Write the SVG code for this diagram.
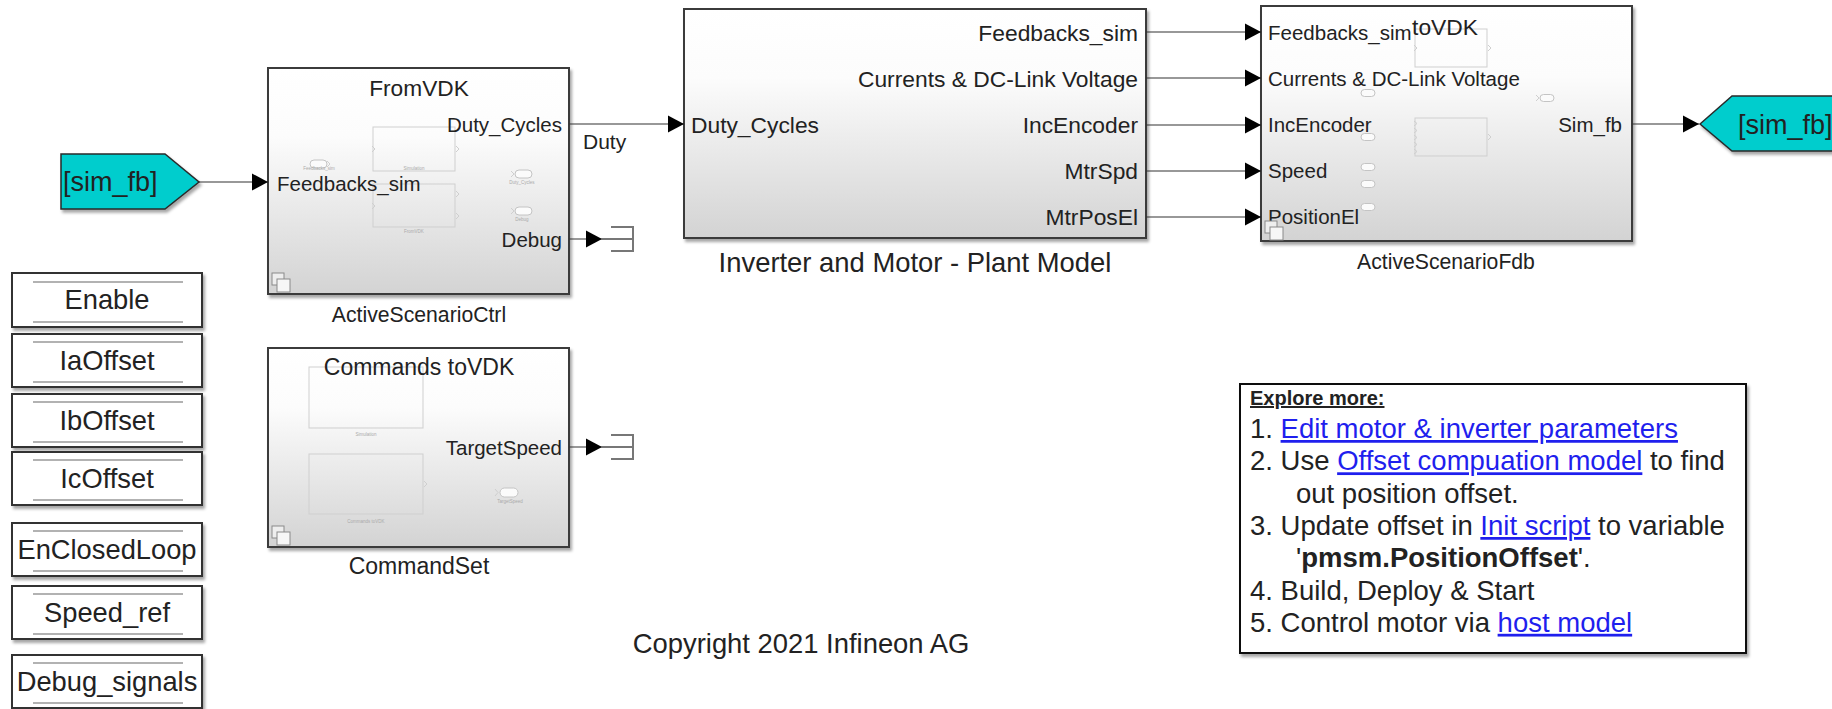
<svg xmlns="http://www.w3.org/2000/svg" width="1832" height="709" viewBox="0 0 1832 709">
<defs>
  <linearGradient id="blkgrad" x1="0" y1="0" x2="0" y2="1">
    <stop offset="0" stop-color="#ffffff"/>
    <stop offset="0.3" stop-color="#fcfcfc"/>
    <stop offset="1" stop-color="#d3d3d3"/>
  </linearGradient>
  <filter id="sh" x="-5%" y="-5%" width="115%" height="120%">
    <feDropShadow dx="2" dy="3" stdDeviation="1.5" flood-color="#000" flood-opacity="0.35"/>
  </filter>
  <marker id="arr" viewBox="0 -9 16 18" refX="16" refY="0" markerWidth="16" markerHeight="18" markerUnits="userSpaceOnUse" orient="auto">
    <path d="M0,-8.5 L16,0 L0,8.5 z" fill="#000"/>
  </marker>
  <g id="ssicon">
    <rect x="0" y="0" width="12" height="12" fill="#eeeeee" stroke="#8a8a8a" stroke-width="1"/>
    <rect x="5" y="6" width="13" height="13" fill="#f6f6f6" stroke="#8a8a8a" stroke-width="1"/>
  </g>
  <g id="term">
    <path d="M0,0 H31 M9,-12 H31 V12 H9" fill="none" stroke="#777" stroke-width="2"/>
  </g>
  <style>
    .blk { fill: url(#blkgrad); stroke: #3a3a3a; stroke-width: 2; filter: url(#sh); }
    .par { fill: #ffffff; stroke: #333; stroke-width: 2; filter: url(#sh); }
    .parln { stroke: #999; stroke-width: 1.5; }
    .t { font-family: "Liberation Sans", Arial, Helvetica, sans-serif; fill: #222; }
    .wire { stroke: #333; stroke-width: 1.2; fill: none; marker-end: url(#arr); }
    .faint { fill: none; stroke: #cfcfcf; stroke-width: 1; }
    .oval { fill: #fbfbfb; stroke: #c4c4c4; stroke-width: 1; }
    .tiny { font-family: "Liberation Sans", Arial, sans-serif; font-size: 4.5px; fill: #aaa; text-anchor: middle; }
    .tag { fill: #00cdcd; stroke: #2a2a2a; stroke-width: 1.5; filter: url(#sh); }
    .lnk { fill: #1f1fee; text-decoration: underline; }
  </style>
</defs>

<rect x="0" y="0" width="1832" height="709" fill="#ffffff"/>

<!-- Left Goto/From tag -->
<g id="from_sim_fb">
  <polygon class="tag" points="61,154 165,154 199,182 165,209 61,209"/>
  <text class="t" x="63" y="191" font-size="27">[sim_fb]</text>
</g>

<!-- ActiveScenarioCtrl -->
<g id="ActiveScenarioCtrl">
  <rect class="blk" x="268" y="68" width="301" height="226"/>
  <rect class="faint" x="373" y="127" width="82" height="44"/>
  <rect class="faint" x="373" y="184" width="82" height="43"/>
  <path class="faint" d="M372,146 l3,3 l-3,3 M456,146 l3,3 l-3,3 M372,203 l3,3 l-3,3 M456,191 l3,3 l-3,3 M456,213 l3,3 l-3,3"/>
  <text class="tiny" x="414" y="169.5">Simulation</text>
  <text class="tiny" x="414" y="233">FromVDK</text>
  <rect class="oval" x="310" y="160" width="17" height="8" rx="4"/>
  <path class="faint" d="M327,161 l3,3 l-3,3"/>
  <text class="tiny" x="319" y="170">Feedbacks_sim</text>
  <rect class="oval" x="515" y="170" width="17" height="8" rx="4"/>
  <path class="faint" d="M511,171 l3,3 l-3,3"/>
  <text class="tiny" x="522" y="184">Duty_Cycles</text>
  <rect class="oval" x="515" y="207" width="17" height="8" rx="4"/>
  <path class="faint" d="M511,208 l3,3 l-3,3"/>
  <text class="tiny" x="522" y="221">Debug</text>
  <text class="t" x="419" y="96" font-size="22.7" text-anchor="middle">FromVDK</text>
  <text class="t" x="277" y="190.5" font-size="20.5">Feedbacks_sim</text>
  <text class="t" x="562" y="131.5" font-size="20.5" text-anchor="end">Duty_Cycles</text>
  <text class="t" x="562" y="246.5" font-size="20.5" text-anchor="end">Debug</text>
  <use href="#ssicon" x="272" y="273"/>
  <text class="t" x="419" y="322" font-size="21.2" text-anchor="middle">ActiveScenarioCtrl</text>
</g>

<!-- CommandSet -->
<g id="CommandSet">
  <rect class="blk" x="268" y="348" width="301" height="199"/>
  <rect class="faint" x="309" y="367" width="114" height="61" stroke="#e2e2e2"/>
  <text class="tiny" x="366" y="436" fill="#c8c8c8">Simulation</text>
  <rect class="faint" x="309" y="454" width="114" height="60"/>
  <path class="faint" d="M424,481 l3,3 l-3,3"/>
  <text class="tiny" x="366" y="523">Commands toVDK</text>
  <rect class="oval" x="500" y="488" width="18" height="9" rx="4.5"/>
  <path class="faint" d="M495,489 l3,3.5 l-3,3.5"/>
  <text class="tiny" x="510" y="503">TargetSpeed</text>
  <text class="t" x="419" y="375" font-size="23" text-anchor="middle">Commands toVDK</text>
  <text class="t" x="562" y="454.5" font-size="20.5" text-anchor="end">TargetSpeed</text>
  <use href="#ssicon" x="272" y="526"/>
  <text class="t" x="419" y="574" font-size="23" text-anchor="middle">CommandSet</text>
</g>

<!-- Inverter and Motor - Plant Model -->
<g id="PlantModel">
  <rect class="blk" x="684" y="9" width="462" height="229"/>
  <text class="t" x="691" y="133" font-size="22.8">Duty_Cycles</text>
  <text class="t" x="1138" y="40.5" font-size="22.8" text-anchor="end">Feedbacks_sim</text>
  <text class="t" x="1138" y="86.5" font-size="22.8" text-anchor="end">Currents &amp; DC-Link Voltage</text>
  <text class="t" x="1138" y="133" font-size="22.8" text-anchor="end">IncEncoder</text>
  <text class="t" x="1138" y="179" font-size="22.8" text-anchor="end">MtrSpd</text>
  <text class="t" x="1138" y="225" font-size="22.8" text-anchor="end">MtrPosEl</text>
  <text class="t" x="915" y="272" font-size="27.4" text-anchor="middle">Inverter and Motor - Plant Model</text>
</g>

<!-- ActiveScenarioFdb -->
<g id="ActiveScenarioFdb">
  <rect class="blk" x="1261" y="6" width="371" height="235"/>
  <rect class="faint" x="1415" y="29" width="72" height="38"/>
  <path class="faint" d="M1414,45 l3,3 l-3,3 M1488,45 l3,3 l-3,3"/>
  <rect class="faint" x="1415" y="118" width="72" height="38" stroke="#c6c6c6"/>
  <path class="faint" d="M1414,121 l3,2.5 l-3,2.5 M1414,128 l3,2.5 l-3,2.5 M1414,135 l3,2.5 l-3,2.5 M1414,142 l3,2.5 l-3,2.5 M1414,149 l3,2.5 l-3,2.5 M1488,134 l3,3 l-3,3"/>
  <rect class="oval" x="1361" y="89.5" width="14" height="7" rx="3.5"/>
  <rect class="oval" x="1361" y="133.5" width="14" height="7" rx="3.5"/>
  <rect class="oval" x="1361" y="163.5" width="14" height="7" rx="3.5"/>
  <rect class="oval" x="1361" y="180.5" width="14" height="7" rx="3.5"/>
  <rect class="oval" x="1361" y="203.5" width="14" height="7" rx="3.5"/>
  <rect class="oval" x="1540" y="94.5" width="14" height="7" rx="3.5"/>
  <path class="faint" d="M1536,95 l3,3 l-3,3"/>
  <text class="t" x="1445" y="35" font-size="22.8" text-anchor="middle">toVDK</text>
  <text class="t" x="1268" y="39.5" font-size="20.5">Feedbacks_sim</text>
  <text class="t" x="1268" y="85.5" font-size="20.5">Currents &amp; DC-Link Voltage</text>
  <text class="t" x="1268" y="132" font-size="20.5">IncEncoder</text>
  <text class="t" x="1268" y="178" font-size="20.5">Speed</text>
  <text class="t" x="1268" y="224" font-size="20.5">PositionEl</text>
  <text class="t" x="1622" y="131.5" font-size="20.5" text-anchor="end">Sim_fb</text>
  <use href="#ssicon" x="1265" y="221"/>
  <text class="t" x="1446" y="269" font-size="21.2" text-anchor="middle">ActiveScenarioFdb</text>
</g>

<!-- Right Goto tag -->
<g id="goto_sim_fb">
  <polygon class="tag" points="1700,124 1732,96 1845,96 1845,151 1732,151"/>
  <text class="t" x="1738" y="133.5" font-size="27">[sim_fb]</text>
</g>

<!-- Terminators -->
<g id="Terminator_Debug">
  <use href="#term" x="602" y="239"/>
</g>
<g id="Terminator_TargetSpeed">
  <use href="#term" x="602" y="447"/>
</g>

<!-- Parameter blocks -->
<g id="Enable">
  <rect class="par" x="12" y="273" width="190" height="54"/>
  <line class="parln" x1="33" y1="282" x2="183" y2="282"/><line class="parln" x1="33" y1="322" x2="183" y2="322"/>
  <text class="t" x="107" y="309" font-size="27.3" text-anchor="middle">Enable</text>
</g>
<g id="IaOffset">
  <rect class="par" x="12" y="334" width="190" height="53"/>
  <line class="parln" x1="33" y1="342" x2="183" y2="342"/><line class="parln" x1="33" y1="382" x2="183" y2="382"/>
  <text class="t" x="107" y="370" font-size="27.3" text-anchor="middle">IaOffset</text>
</g>
<g id="IbOffset">
  <rect class="par" x="12" y="394" width="190" height="53"/>
  <line class="parln" x1="33" y1="402" x2="183" y2="402"/><line class="parln" x1="33" y1="442" x2="183" y2="442"/>
  <text class="t" x="107" y="430" font-size="27.3" text-anchor="middle">IbOffset</text>
</g>
<g id="IcOffset">
  <rect class="par" x="12" y="452" width="190" height="53"/>
  <line class="parln" x1="33" y1="460" x2="183" y2="460"/><line class="parln" x1="33" y1="500" x2="183" y2="500"/>
  <text class="t" x="107" y="488" font-size="27.3" text-anchor="middle">IcOffset</text>
</g>
<g id="EnClosedLoop">
  <rect class="par" x="12" y="523" width="190" height="53"/>
  <line class="parln" x1="33" y1="531" x2="183" y2="531"/><line class="parln" x1="33" y1="571" x2="183" y2="571"/>
  <text class="t" x="107" y="559" font-size="27.3" text-anchor="middle">EnClosedLoop</text>
</g>
<g id="Speed_ref">
  <rect class="par" x="12" y="586" width="190" height="53"/>
  <line class="parln" x1="33" y1="594" x2="183" y2="594"/><line class="parln" x1="33" y1="634" x2="183" y2="634"/>
  <text class="t" x="107" y="622" font-size="27.3" text-anchor="middle">Speed_ref</text>
</g>
<g id="Debug_signals">
  <rect class="par" x="12" y="655" width="190" height="53"/>
  <line class="parln" x1="33" y1="663" x2="183" y2="663"/><line class="parln" x1="33" y1="703" x2="183" y2="703"/>
  <text class="t" x="107" y="691" font-size="27.3" text-anchor="middle">Debug_signals</text>
</g>

<!-- Connectors -->
<g id="connectors">
  <line class="wire" x1="199" y1="182" x2="268" y2="182"/>
  <line class="wire" x1="569" y1="124" x2="684" y2="124"/>
  <text class="t" x="583" y="149" font-size="21">Duty</text>
  <line class="wire" x1="569" y1="239" x2="602" y2="239"/>
  <line class="wire" x1="569" y1="447" x2="602" y2="447"/>
  <line class="wire" x1="1146" y1="32" x2="1261" y2="32"/>
  <line class="wire" x1="1146" y1="78" x2="1261" y2="78"/>
  <line class="wire" x1="1146" y1="125" x2="1261" y2="125"/>
  <line class="wire" x1="1146" y1="171" x2="1261" y2="171"/>
  <line class="wire" x1="1146" y1="217" x2="1261" y2="217"/>
  <line class="wire" x1="1632" y1="124" x2="1699" y2="124"/>
</g>

<!-- Explore more annotation -->
<g id="ExploreMore">
  <rect x="1240" y="384" width="506" height="269" fill="#ffffff" stroke="#111" stroke-width="2" filter="url(#sh)"/>
  <text class="t" x="1250" y="405" font-size="20" font-weight="bold" text-decoration="underline">Explore more:</text>
  <text class="t" x="1250" y="438" font-size="27.5">1. <tspan class="lnk">Edit motor &amp; inverter parameters</tspan></text>
  <text class="t" x="1250" y="470.3" font-size="27.5">2. Use <tspan class="lnk">Offset compuation model</tspan> to find</text>
  <text class="t" x="1296" y="502.6" font-size="27.5">out position offset.</text>
  <text class="t" x="1250" y="535" font-size="27.5">3. Update offset in <tspan class="lnk">Init script</tspan> to variable</text>
  <text class="t" x="1296" y="567.2" font-size="27.5">'<tspan font-weight="bold">pmsm.PositionOffset</tspan>'.</text>
  <text class="t" x="1250" y="599.5" font-size="27.5">4. Build, Deploy &amp; Start</text>
  <text class="t" x="1250" y="631.8" font-size="27.5">5. Control motor via <tspan class="lnk">host model</tspan></text>
</g>

<!-- Copyright -->
<g id="Copyright">
  <text class="t" x="801" y="653" font-size="27.4" text-anchor="middle">Copyright 2021 Infineon AG</text>
</g>
</svg>
